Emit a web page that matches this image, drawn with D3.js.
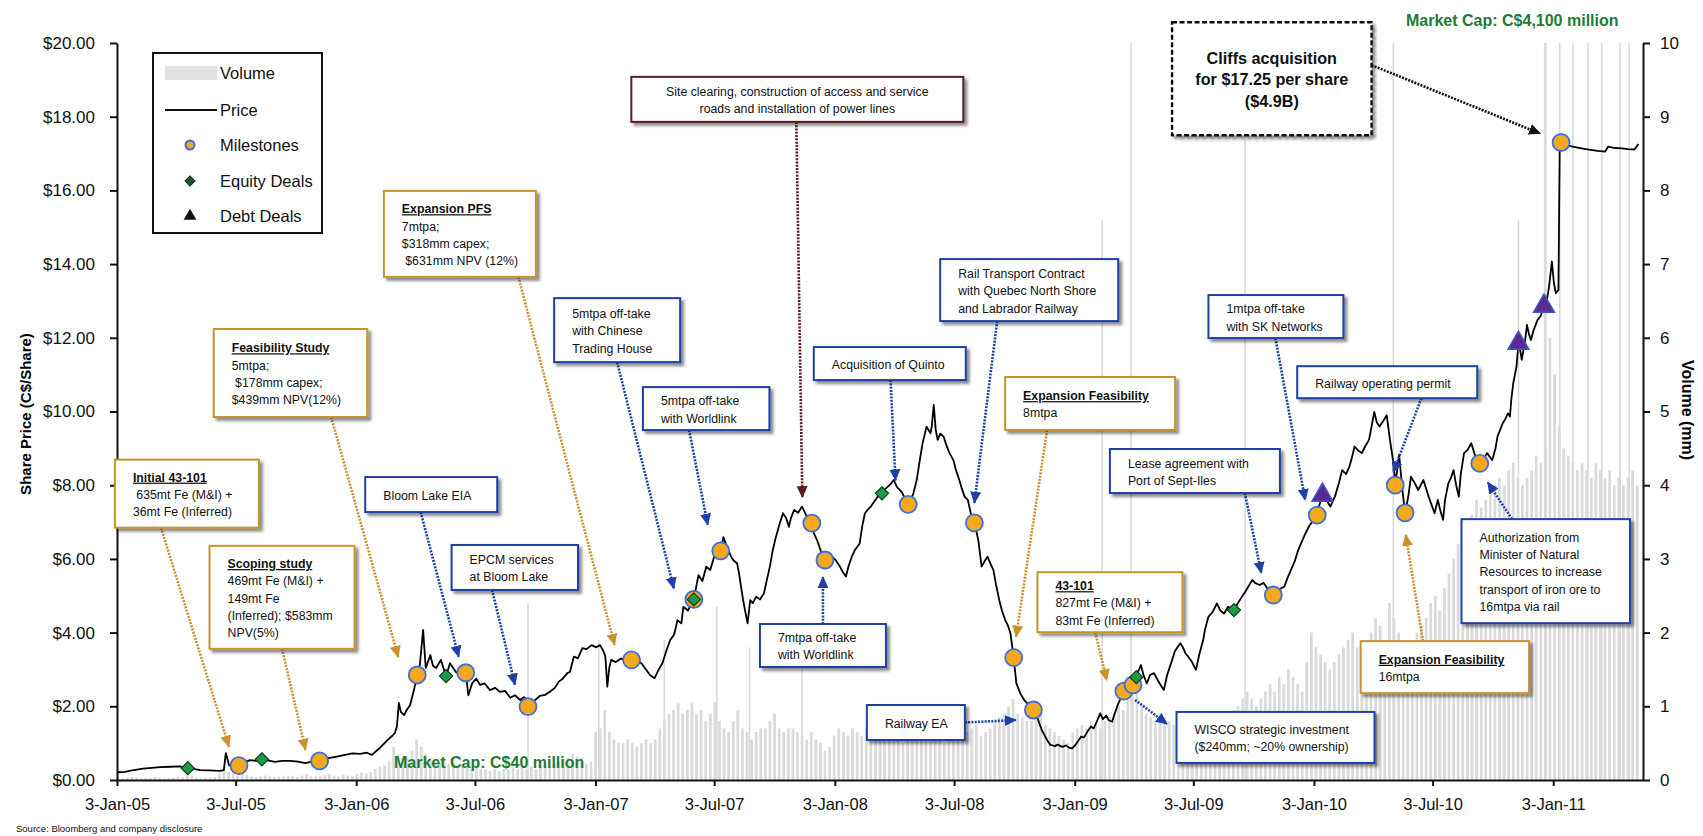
<!DOCTYPE html>
<html>
<head>
<meta charset="utf-8">
<script src="https://cdn.jsdelivr.net/npm/d3@7"></script>
<style>
  body { margin: 0; background: #fff; }
  text { font-family: "Liberation Sans", Arial, sans-serif; }
</style>
</head>
<body>
<svg id="chart" width="1703" height="836"></svg>
<script>
// ---------- data ----------
var price2005 = [["2005-01-04",0.21],["2005-01-15",0.22],["2005-01-26",0.26],["2005-02-12",0.31],["2005-02-25",0.33],["2005-03-10",0.35],["2005-03-25",0.36],["2005-04-09",0.37],["2005-04-21",0.33],["2005-05-10",0.27],["2005-05-25",0.26],["2005-06-09",0.25],["2005-06-15",0.27],["2005-06-18",0.73],["2005-06-23",0.40],["2005-07-01",0.38],["2005-07-08",0.39],["2005-07-17",0.48],["2005-07-25",0.54],["2005-08-03",0.52],["2005-08-12",0.56],["2005-08-21",0.53],["2005-09-01",0.49],["2005-09-12",0.52],["2005-09-24",0.52],["2005-10-06",0.50],["2005-10-17",0.46],["2005-10-28",0.50],["2005-11-08",0.52],["2005-11-16",0.57],["2005-11-24",0.60],["2005-12-06",0.64],["2005-12-17",0.68],["2005-12-28",0.72]];
var price2006 = [["2006-01-09",0.71],["2006-01-19",0.74],["2006-01-27",0.68],["2006-02-02",0.78],["2006-02-08",0.87],["2006-02-14",0.98],["2006-02-20",1.09],["2006-02-27",1.20],["2006-03-03",1.28],["2006-03-06",1.45],["2006-03-09",2.09],["2006-03-12",1.85],["2006-03-17",1.76],["2006-03-21",1.90],["2006-03-26",2.03],["2006-04-01",2.44],["2006-04-06",2.85],["2006-04-10",3.12],["2006-04-15",4.07],["2006-04-19",3.04],["2006-04-26",3.39],["2006-04-30",3.10],["2006-05-05",3.04],["2006-05-12",3.26],["2006-05-20",2.82],["2006-05-26",3.17],["2006-06-04",2.93],["2006-06-13",2.82],["2006-06-19",2.91],["2006-06-23",2.30],["2006-06-29",2.63],["2006-07-05",2.75],["2006-07-11",2.58],["2006-07-18",2.62],["2006-07-26",2.44],["2006-08-03",2.50],["2006-08-10",2.39],["2006-08-18",2.42],["2006-08-26",2.23],["2006-09-02",2.30],["2006-09-10",2.17],["2006-09-16",2.25],["2006-09-22",2.15],["2006-09-28",2.10],["2006-10-03",2.17],["2006-10-10",2.28],["2006-10-18",2.31],["2006-10-26",2.40],["2006-11-02",2.50],["2006-11-08",2.67],["2006-11-14",2.75],["2006-11-21",2.90],["2006-11-25",2.93],["2006-12-01",3.35],["2006-12-07",3.30],["2006-12-14",3.58],["2006-12-20",3.55],["2006-12-28",3.66]];
var price2007 = [["2007-01-04",3.60],["2007-01-10",3.66],["2007-01-15",3.50],["2007-01-18",3.35],["2007-01-21",2.53],["2007-01-24",3.05],["2007-01-27",3.26],["2007-02-03",3.20],["2007-02-11",3.30],["2007-02-19",3.22],["2007-02-27",3.26],["2007-03-06",3.22],["2007-03-14",3.17],["2007-03-21",3.00],["2007-03-27",2.85],["2007-04-03",2.76],["2007-04-08",2.95],["2007-04-15",3.17],["2007-04-21",3.50],["2007-04-27",3.80],["2007-05-03",3.95],["2007-05-08",4.34],["2007-05-14",4.25],["2007-05-17",4.70],["2007-05-24",4.60],["2007-06-02",4.90],["2007-06-09",5.56],["2007-06-15",5.40],["2007-06-21",5.79],["2007-06-27",5.70],["2007-07-03",6.06],["2007-07-09",6.10],["2007-07-13",6.22],["2007-07-17",6.59],["2007-07-23",6.30],["2007-07-29",6.06],["2007-08-02",5.95],["2007-08-07",5.88],["2007-08-10",5.60],["2007-08-13",5.25],["2007-08-16",4.90],["2007-08-20",4.52],["2007-08-23",4.25],["2007-08-27",4.88],["2007-08-31",4.80],["2007-09-05",4.97],["2007-09-11",4.90],["2007-09-17",5.07],["2007-09-21",5.40],["2007-09-26",5.79],["2007-09-30",6.20],["2007-10-04",6.51],["2007-10-10",6.90],["2007-10-16",7.24],["2007-10-21",7.10],["2007-10-25",6.87],["2007-10-28",7.10],["2007-11-02",7.33],["2007-11-08",7.25],["2007-11-14",7.42],["2007-11-20",7.20],["2007-11-29",6.97],["2007-12-02",6.70],["2007-12-07",6.51],["2007-12-13",6.20],["2007-12-19",5.97],["2007-12-25",6.15],["2007-12-30",6.06]];
var price2008 = [["2008-01-05",5.95],["2008-01-11",5.79],["2008-01-15",5.65],["2008-01-20",5.52],["2008-01-24",5.80],["2008-01-29",6.06],["2008-02-03",6.25],["2008-02-10",6.42],["2008-02-14",6.90],["2008-02-18",7.24],["2008-02-23",7.35],["2008-02-27",7.42],["2008-03-03",7.55],["2008-03-09",7.70],["2008-03-15",7.78],["2008-03-20",7.90],["2008-03-24",7.96],["2008-03-29",8.05],["2008-04-02",8.14],["2008-04-07",7.95],["2008-04-14",7.82],["2008-04-19",7.65],["2008-04-24",7.48],["2008-04-28",7.60],["2008-05-02",7.78],["2008-05-07",8.14],["2008-05-11",8.60],["2008-05-16",9.14],["2008-05-22",9.59],["2008-05-28",9.41],["2008-05-30",9.60],["2008-06-02",10.18],["2008-06-05",9.50],["2008-06-08",9.23],["2008-06-12",9.40],["2008-06-17",9.32],["2008-06-21",9.10],["2008-06-26",8.87],["2008-07-02",8.68],["2008-07-06",8.40],["2008-07-11",8.14],["2008-07-15",7.90],["2008-07-19",7.69],["2008-07-24",7.60],["2008-07-29",7.20],["2008-08-03",6.98],["2008-08-09",6.51],["2008-08-14",5.79],["2008-08-19",5.95],["2008-08-23",6.06],["2008-08-28",5.85],["2008-09-01",5.70],["2008-09-05",5.30],["2008-09-10",4.88],["2008-09-14",4.60],["2008-09-19",4.34],["2008-09-23",4.20],["2008-09-27",3.98],["2008-10-02",3.32],["2008-10-06",2.62],["2008-10-12",2.35],["2008-10-18",2.17],["2008-10-24",2.05],["2008-11-01",1.90],["2008-11-05",1.80],["2008-11-10",1.54],["2008-11-14",1.35],["2008-11-19",1.18],["2008-11-23",1.05],["2008-11-27",0.95],["2008-12-04",0.92],["2008-12-08",0.96],["2008-12-15",0.90],["2008-12-21",0.94],["2008-12-25",0.88],["2008-12-30",0.86]];
var price2009 = [["2009-01-04",0.95],["2009-01-08",1.05],["2009-01-13",1.18],["2009-01-17",1.15],["2009-01-22",1.30],["2009-01-28",1.45],["2009-02-01",1.40],["2009-02-06",1.60],["2009-02-11",1.81],["2009-02-15",1.65],["2009-02-20",1.75],["2009-02-24",1.62],["2009-03-01",1.58],["2009-03-06",1.85],["2009-03-10",2.05],["2009-03-15",2.25],["2009-03-19",2.41],["2009-03-24",2.45],["2009-03-29",2.55],["2009-04-02",2.58],["2009-04-07",2.79],["2009-04-10",2.95],["2009-04-14",3.12],["2009-04-18",2.85],["2009-04-23",2.62],["2009-04-28",2.85],["2009-05-04",2.90],["2009-05-10",2.70],["2009-05-15",2.55],["2009-05-19",2.44],["2009-05-24",2.85],["2009-05-31",3.22],["2009-06-05",3.50],["2009-06-13",3.71],["2009-06-17",3.60],["2009-06-21",3.44],["2009-06-25",3.35],["2009-07-01",3.20],["2009-07-07",2.99],["2009-07-12",3.40],["2009-07-18",3.80],["2009-07-21",4.10],["2009-07-26",4.43],["2009-08-01",4.55],["2009-08-08",4.79],["2009-08-13",4.60],["2009-08-19",4.52],["2009-08-25",4.70],["2009-09-03",4.61],["2009-09-09",4.80],["2009-09-15",4.97],["2009-09-20",5.10],["2009-09-25",5.25],["2009-10-01",5.43],["2009-10-05",5.35],["2009-10-12",5.29],["2009-10-18",5.35],["2009-10-24",5.20],["2009-11-02",5.02],["2009-11-09",5.15],["2009-11-19",5.25],["2009-11-23",5.45],["2009-11-29",5.70],["2009-12-05",5.95],["2009-12-10",6.24],["2009-12-15",6.45],["2009-12-21",6.69],["2009-12-27",6.90]];
var price2010 = [["2010-01-02",7.05],["2010-01-08",7.19],["2010-01-11",7.45],["2010-01-16",7.73],["2010-01-22",7.60],["2010-01-28",7.42],["2010-02-04",7.69],["2010-02-10",8.05],["2010-02-15",8.41],["2010-02-21",8.30],["2010-02-26",8.50],["2010-03-02",8.75],["2010-03-06",9.05],["2010-03-11",8.95],["2010-03-17",8.87],["2010-03-22",9.05],["2010-03-28",9.23],["2010-04-01",9.60],["2010-04-05",9.99],["2010-04-09",9.70],["2010-04-13",9.59],["2010-04-19",9.75],["2010-04-24",9.90],["2010-04-29",9.23],["2010-05-05",8.50],["2010-05-07",8.00],["2010-05-13",8.82],["2010-05-18",7.87],["2010-05-22",7.25],["2010-05-27",7.70],["2010-05-31",8.23],["2010-06-06",8.05],["2010-06-11",7.87],["2010-06-19",8.14],["2010-06-27",7.69],["2010-07-06",7.24],["2010-07-11",7.60],["2010-07-15",7.30],["2010-07-19",7.06],["2010-07-22",7.60],["2010-07-27",8.05],["2010-07-31",8.20],["2010-08-04",8.41],["2010-08-08",8.00],["2010-08-12",7.69],["2010-08-15",8.30],["2010-08-20",8.87],["2010-08-25",8.95],["2010-08-31",9.14],["2010-09-06",8.80],["2010-09-13",8.59],["2010-09-18",8.70],["2010-09-24",8.87],["2010-09-29",8.75],["2010-10-02",8.68],["2010-10-07",9.00],["2010-10-10",9.32],["2010-10-14",9.50],["2010-10-18",9.68],["2010-10-22",9.80],["2010-10-26",9.95],["2010-10-29",9.86],["2010-10-31",10.31],["2010-11-03",10.76],["2010-11-08",11.22],["2010-11-11",11.85],["2010-11-13",11.75],["2010-11-16",11.40],["2010-11-21",11.90],["2010-11-24",12.35],["2010-11-27",12.10],["2010-11-30",11.94],["2010-12-04",12.20],["2010-12-10",12.48],["2010-12-15",12.60],["2010-12-20",12.86],["2010-12-24",13.00],["2010-12-27",13.30],["2010-12-29",13.60]];
var price2011 = [["2011-01-01",14.07],["2011-01-04",13.50],["2011-01-07",13.21],["2011-01-11",13.30],["2011-01-13",17.28],["2011-01-15",17.30],["2011-01-24",17.22],["2011-02-02",17.19],["2011-02-13",17.15],["2011-02-22",17.12],["2011-03-01",17.10],["2011-03-12",17.07],["2011-03-23",17.05],["2011-03-28",17.19],["2011-04-07",17.15],["2011-04-18",17.14],["2011-04-27",17.12],["2011-05-07",17.11],["2011-05-13",17.26]];

var milestoneDates = ["2005-07-08","2005-11-08","2006-04-06","2006-06-19","2006-09-22","2007-02-27","2007-06-02","2007-07-13","2007-11-29","2007-12-19","2008-04-24","2008-08-03","2008-10-02","2008-11-01","2009-03-19","2009-04-02","2009-11-02","2010-01-08","2010-05-07","2010-05-22","2010-09-13","2011-01-15"];
var milestonePrices = [0.39,0.52,2.85,2.91,1.99,3.26,4.90,6.22,6.97,5.97,7.48,6.98,3.32,1.90,2.41,2.58,5.02,7.19,8.00,7.25,8.59,17.30];
var equityDates = ["2005-04-21","2005-08-12","2006-05-20","2007-06-02","2008-03-15","2009-04-07","2009-09-03"];
var equityPrices = [0.32,0.56,2.82,4.90,7.78,2.79,4.61];
var debtDates = ["2010-01-16","2010-11-11","2010-12-20"];
var debtPrices = [7.73,11.85,12.86];

// weekly average volume (mm), weeks counted from 3-Jan-05
var volume2005 = [0.03,0.02,0.03,0.04,0.03,0.02,0.03,0.03,0.04,0.03,0.02,0.03,0.03,0.04,0.03,0.06,0.05,0.03,0.02,0.03,0.03,0.04,0.09,0.18,0.11,0.08,0.06,0.09,0.07,0.05,0.04,0.05,0.06,0.05,0.04,0.04,0.05,0.06,0.05,0.04,0.06,0.08,0.05,0.05,0.06,0.07,0.08,0.06,0.05,0.07,0.06,0.05];
var volume2006 = [0.08,0.10,0.09,0.11,0.15,0.18,0.20,0.25,0.45,0.35,0.30,0.32,0.40,0.55,0.45,0.35,0.30,0.28,0.25,0.30,0.22,0.25,0.20,0.22,0.18,0.15,0.18,0.15,0.14,0.12,0.15,0.12,0.15,0.14,0.18,0.15,0.20,0.15,0.18,0.15,0.18,0.20,0.19,0.22,0.25,0.28,0.30,0.35,0.32,0.30,0.22,0.25];
var volume2007 = [0.65,0.70,0.95,0.65,0.55,0.50,0.50,0.55,0.50,0.45,0.50,0.55,0.50,0.55,0.70,0.80,0.90,0.95,1.05,0.90,0.95,1.05,0.90,0.95,0.80,0.90,1.05,0.80,0.70,0.65,0.80,0.95,0.70,0.65,0.55,0.65,0.70,0.70,0.80,0.90,0.70,0.65,0.70,0.70,0.65,0.60,0.55,0.65,0.55,0.50,0.40,0.45];
var volume2008 = [0.60,0.70,0.65,0.60,0.70,0.65,0.60,0.70,0.80,0.70,0.60,0.65,0.60,0.55,0.60,0.50,0.55,0.60,0.75,0.80,0.90,0.70,0.60,0.55,0.50,0.60,0.65,0.70,0.60,0.65,0.70,0.75,0.60,0.65,0.70,0.80,0.85,0.90,1.00,1.10,0.90,0.85,0.80,0.80,0.85,0.90,0.75,0.70,0.65,0.60,0.55,0.50];
var volume2009 = [0.65,0.70,0.75,0.70,0.80,0.75,0.70,0.80,0.85,0.90,1.00,0.95,1.10,1.30,1.20,1.00,0.90,0.85,0.80,0.90,0.85,0.80,0.75,0.70,0.70,0.75,0.80,0.90,0.85,0.80,0.85,0.90,0.80,0.85,0.90,0.95,1.00,1.10,1.20,1.10,1.00,1.10,1.20,1.30,1.20,1.40,1.30,1.50,1.40,1.30,1.20,1.60];
var volume2010 = [2.00,1.80,1.70,1.60,1.50,1.60,1.70,1.80,1.90,2.00,1.80,1.70,1.90,2.00,2.20,2.10,1.90,2.40,2.20,2.00,1.90,1.80,1.90,2.00,2.10,2.20,2.40,2.50,2.30,2.60,2.80,3.00,3.20,3.40,3.50,3.60,3.80,3.70,3.80,3.90,4.00,4.10,4.00,4.20,4.30,4.10,4.00,4.10,4.20,4.40,4.30,4.50];
var volume2011 = [6.00,5.50,4.80,4.50,4.40,4.30,4.20,4.30,4.20,4.10,4.30,4.20,4.10,4.20,4.00,4.10,4.00,4.10,4.20,4.00];
// single heavy-volume days
var spikeDates = ["2006-09-22","2007-01-08","2007-04-18","2007-07-07","2007-08-26","2007-11-14","2009-02-14","2009-03-30","2009-09-20","2010-05-04","2010-11-11","2010-12-21","2010-12-23","2011-01-13","2011-02-02","2011-02-25","2011-03-18","2011-04-15","2011-04-29"];
var spikeValues = [2.4,1.9,1.9,2.35,1.8,1.5,7.6,10.5,8.7,10.5,7.6,10.5,10.5,10.5,10.5,10.5,10.5,10.5,10.5];

var priceTicks = [0,2,4,6,8,10,12,14,16,18,20];
var volumeTicks = [0,1,2,3,4,5,6,7,8,9,10];
var dateTicks = ["2005-01-03","2005-07-03","2006-01-03","2006-07-03","2007-01-03","2007-07-03","2008-01-03","2008-07-03","2009-01-03","2009-07-03","2010-01-03","2010-07-03","2011-01-03"];

// callout texts, one per milestone (title line first when underlined)
var noteTexts = [
  {title: "Initial 43-101", lines: [" 635mt Fe (M&I) +", "36mt Fe (Inferred)"]},
  {title: "Scoping study", lines: ["469mt Fe (M&I) +", "149mt Fe", "(Inferred); $583mm", "NPV(5%)"]},
  {title: "Feasibility Study", lines: ["5mtpa;", " $178mm capex;", "$439mm NPV(12%)"]},
  {title: null, lines: ["Bloom Lake EIA"]},
  {title: null, lines: ["EPCM services", "at Bloom Lake"]},
  {title: "Expansion PFS", lines: ["7mtpa;", "$318mm capex;", " $631mm NPV (12%)"]},
  {title: null, lines: ["5mtpa off-take", "with Chinese", "Trading House"]},
  {title: null, lines: ["5mtpa off-take", "with Worldlink"]},
  {title: null, lines: ["Site clearing, construction of access and service", "roads and installation of power lines"]},
  {title: null, lines: ["7mtpa off-take", "with Worldlink"]},
  {title: null, lines: ["Acquisition of Quinto"]},
  {title: null, lines: ["Rail Transport Contract", "with Quebec North Shore", "and Labrador Railway"]},
  {title: "Expansion Feasibility", lines: ["8mtpa"]},
  {title: null, lines: ["Railway EA"]},
  {title: "43-101", lines: ["827mt Fe (M&I) +", "83mt Fe (Inferred)"]},
  {title: null, lines: ["WISCO strategic investment", "($240mm; ~20% ownership)"]},
  {title: null, lines: ["Lease agreement with", "Port of Sept-Iles"]},
  {title: null, lines: ["1mtpa off-take", "with SK Networks"]},
  {title: null, lines: ["Railway operating permit"]},
  {title: "Expansion Feasibility", lines: ["16mtpa"]},
  {title: null, lines: ["Authorization from", "Minister of Natural", "Resources to increase", "transport of iron ore to", "16mtpa via rail"]},
  {title: null, lines: ["Cliffs acquisition", "for $17.25 per share", "($4.9B)"]}
];

// ---------- layout ----------
var plot = {left: 117, right: 1643, top: 43, bottom: 780};
var colors = {orange: "#c9922c", blue: "#1f3fa6", maroon: "#5a1a26", black: "#111"};

// box offsets relative to the milestone they point at (px), arrow start on box (fractions), arrow tip offset from the marker
var noteLayout = [
  {dx: -124, dy: -306, w: 144, h: 68, from: [0.32, 1], to: [-10, -19], c: "orange"},
  {dx: -110, dy: -215, w: 145, h: 103, from: [0.5, 1], to: [-14, -11], c: "orange"},
  {dx: -203.5, dy: -346, w: 153.5, h: 88, from: [0.765, 1], to: [-19, -18], c: "orange"},
  {dx: -100.5, dy: -195.7, w: 132, h: 35, from: [0.42, 1], to: [-7, -16], c: "blue"},
  {dx: -76.4, dy: -161.7, w: 126.4, h: 45, from: [0.32, 1], to: [-13, -22], c: "blue"},
  {dx: -247.7, dy: -469, w: 152, h: 86, from: [0.885, 1], to: [-17, -15], c: "orange"},
  {dx: -139.7, dy: -301.3, w: 126, h: 64, from: [0.5, 1], to: [-20, -11], c: "blue"},
  {dx: -77.8, dy: -163.7, w: 126.5, h: 43, from: [0.365, 1], to: [-13, -26], c: "blue"},
  {dx: -180.5, dy: -446.3, w: 332, h: 45, from: [0.497, 1], to: [-9.5, -26], c: "maroon", center: true},
  {dx: -65, dy: 64, w: 126, h: 43, from: [0.5, 0], to: [-2, 17], c: "blue"},
  {dx: -94.4, dy: -157.3, w: 152, h: 33, from: [0.505, 1], to: [-12.7, -24], c: "blue"},
  {dx: -34.2, dy: -263.7, w: 178, h: 62, from: [0.32, 1], to: [0, -20], c: "blue"},
  {dx: -8.6, dy: -280.7, w: 170, h: 53, from: [0.247, 1], to: [2.4, -21], c: "orange"},
  {dx: -166.5, dy: -5, w: 98, h: 35, from: [1, 0.5], to: [-17.5, 10], c: "blue"},
  {dx: -86.4, dy: -119, w: 145, h: 60, from: [0.398, 1], to: [-17, -11], c: "orange"},
  {dx: 43.5, dy: 27, w: 198, h: 51, from: [-0.048, 0.235], to: [2, 15], c: "blue", reverse: true},
  {dx: -163.4, dy: -146, w: 170, h: 44, from: [0.794, 1], to: [-12, -22], c: "blue"},
  {dx: -108.8, dy: -220, w: 135, h: 43, from: [0.496, 1], to: [-12, -15], c: "blue"},
  {dx: -98, dy: -119, w: 180, h: 32, from: [0.69, 1], to: [-2, -13], c: "blue"},
  {dx: -44.4, dy: 128.3, w: 168.4, h: 52, from: [0.37, 0], to: [0.7, 22], c: "orange"},
  {dx: -18.3, dy: 55.7, w: 168.5, h: 104, from: [0.3, 0], to: [8, 19], c: "blue"},
  {dx: -389, dy: -120.3, w: 199.5, h: 113, from: [1, 0.38], to: [-21, -9], c: "black", center: true, big: true, dashed: true}
];

var parseDate = d3.timeParse("%Y-%m-%d");
var priceData = [].concat(price2005, price2006, price2007, price2008, price2009, price2010, price2011)
  .map(d => ({date: parseDate(d[0]), value: d[1]}));
var weekly = [].concat(volume2005, volume2006, volume2007, volume2008, volume2009, volume2010, volume2011);
var volStart = parseDate("2005-01-03");

var x = d3.scaleTime()
    .domain([parseDate("2005-01-03"), parseDate("2011-05-20")])
    .range([plot.left, plot.right]);
var y = d3.scaleLinear().domain([0, 20]).range([plot.bottom, plot.top]);
var yVol = d3.scaleLinear().domain([0, 10]).range([plot.bottom, plot.top]);

var svg = d3.select("#chart");
var defs = svg.append("defs");

// drop shadow for the callout boxes
var f = defs.append("filter").attr("id", "shadow")
    .attr("x", "-10%").attr("y", "-20%").attr("width", "125%").attr("height", "150%");
f.append("feDropShadow").attr("dx", 3).attr("dy", 3).attr("stdDeviation", 1.6)
    .attr("flood-color", "#000").attr("flood-opacity", 0.45);

defs.append("clipPath").attr("id", "plotclip").append("rect")
    .attr("x", plot.left).attr("y", plot.top)
    .attr("width", plot.right - plot.left).attr("height", plot.bottom - plot.top);

// arrow heads, one per colour
Object.keys(colors).forEach(function(k) {
  defs.append("marker").attr("id", "arrow-" + k)
      .attr("markerUnits", "userSpaceOnUse")
      .attr("viewBox", "0 0 12 12")
      .attr("markerWidth", 12).attr("markerHeight", 12)
      .attr("refX", 11).attr("refY", 6)
      .attr("orient", "auto")
    .append("path").attr("d", "M0,0.5 L12,6 L0,11.5 Z").attr("fill", colors[k]);
});

// ---------- volume ----------
var volG = svg.append("g").attr("clip-path", "url(#plotclip)");
var weekW = x(d3.timeDay.offset(volStart, 7)) - x(volStart);
volG.selectAll("rect.week")
  .data(weekly)
  .enter().append("rect").attr("class", "week")
    .attr("x", (d, i) => x(d3.timeDay.offset(volStart, 7 * i)))
    .attr("y", d => yVol(Math.min(d, 10)))
    .attr("width", weekW * 0.6)
    .attr("height", d => plot.bottom - yVol(Math.min(d, 10)))
    .attr("fill", "#dadada");
volG.selectAll("rect.spike")
  .data(spikeDates)
  .enter().append("rect").attr("class", "spike")
    .attr("x", d => x(parseDate(d)) - 0.8)
    .attr("y", (d, i) => yVol(Math.min(spikeValues[i], 10)))
    .attr("width", 1.6)
    .attr("height", (d, i) => plot.bottom - yVol(Math.min(spikeValues[i], 10)))
    .attr("fill", "#dadada");

// ---------- axes ----------
var fmtPrice = d3.format(".2f");
var gy = svg.append("g").attr("transform", "translate(" + plot.left + ",0)")
    .call(d3.axisLeft(y).tickValues(priceTicks).tickSize(7).tickSizeOuter(0).tickPadding(15)
      .tickFormat(d => "$" + fmtPrice(d)));
var gv = svg.append("g").attr("transform", "translate(" + plot.right + ",0)")
    .call(d3.axisRight(yVol).tickValues(volumeTicks).tickSize(7).tickSizeOuter(0).tickPadding(10));
var gx = svg.append("g").attr("transform", "translate(0," + plot.bottom + ")")
    .call(d3.axisBottom(x).tickValues(dateTicks.map(parseDate)).tickSize(6).tickSizeOuter(0).tickPadding(12)
      .tickFormat(d3.timeFormat("%-d-%b-%y")));
[gy, gv, gx].forEach(function(g) {
  g.selectAll("path.domain").attr("stroke", "#111").attr("stroke-width", 2);
  g.selectAll(".tick line").attr("stroke", "#111").attr("stroke-width", 2);
  g.selectAll("text").attr("fill", "#111").style("font-size", "17px");
});
gx.selectAll("text").style("font-size", "16.5px");

svg.append("text")
    .attr("transform", "translate(26,414) rotate(-90)")
    .attr("text-anchor", "middle").attr("dy", "0.35em")
    .style("font-size", "15px").style("font-weight", "bold")
    .text("Share Price (C$/Share)");
svg.append("text")
    .attr("transform", "translate(1688,410) rotate(90)")
    .attr("text-anchor", "middle").attr("dy", "0.35em")
    .style("font-size", "16px").style("font-weight", "bold")
    .text("Volume (mm)");

// ---------- price line ----------
var line = d3.line().x(d => x(d.date)).y(d => y(d.value));
svg.append("path").datum(priceData)
    .attr("d", line)
    .attr("fill", "none").attr("stroke", "#000").attr("stroke-width", 1.8)
    .attr("stroke-linejoin", "round");

// ---------- callouts ----------
var mPts = milestoneDates.map((d, i) => [x(parseDate(d)), y(milestonePrices[i])]);
var arrowsG = svg.append("g");
var boxesG = svg.append("g");

noteLayout.forEach(function(L, i) {
  var m = mPts[i], T = noteTexts[i];
  var bx = m[0] + L.dx, by = m[1] + L.dy;
  var onBox = [bx + L.from[0] * L.w, by + L.from[1] * L.h];
  var nearMark = [m[0] + L.to[0], m[1] + L.to[1]];
  var p0 = L.reverse ? nearMark : onBox, p1 = L.reverse ? onBox : nearMark;
  arrowsG.append("line")
      .attr("x1", p0[0]).attr("y1", p0[1]).attr("x2", p1[0]).attr("y2", p1[1])
      .attr("stroke", colors[L.c]).attr("stroke-width", 2.6)
      .attr("stroke-dasharray", "2,1.3")
      .attr("marker-end", "url(#arrow-" + L.c + ")");

  var g = boxesG.append("g");
  g.append("rect").attr("x", bx).attr("y", by).attr("width", L.w).attr("height", L.h)
      .attr("fill", "#fff").attr("stroke", colors[L.c])
      .attr("stroke-width", L.dashed ? 2.4 : 2)
      .attr("stroke-dasharray", L.dashed ? "5,2.5" : null)
      .attr("filter", "url(#shadow)");

  var rows = (T.title ? [T.title] : []).concat(T.lines);
  var step = L.big ? 21.5 : 17.3;
  var cy = by + L.h / 2 + 1 - (rows.length - 1) * step / 2;
  var t = g.append("text")
      .attr("text-anchor", L.center ? "middle" : "start")
      .style("font-size", L.big ? "16.2px" : "12.3px")
      .style("font-weight", L.big ? "bold" : null)
      .style("white-space", "pre")
      .attr("fill", "#111");
  rows.forEach(function(r, k) {
    var ts = t.append("tspan")
        .attr("x", L.center ? bx + L.w / 2 : bx + 18)
        .attr("y", cy + k * step)
        .attr("dy", "0.35em")
        .text(r);
    if (T.title && k === 0) ts.style("font-weight", "bold").style("text-decoration", "underline");
  });
});

// ---------- markers ----------
var mk = svg.append("g");
mk.selectAll("path.debt")
  .data(debtDates)
  .enter().append("path").attr("class", "debt")
    .attr("transform", (d, i) => "translate(" + x(parseDate(d)) + "," + y(debtPrices[i]) + ")")
    .attr("d", d3.symbol().type(d3.symbolTriangle).size(190))
    .attr("fill", "#5a2a8f").attr("stroke", "#3f55c8").attr("stroke-width", 1.5);
mk.selectAll("circle.mile")
  .data(milestoneDates)
  .enter().append("circle").attr("class", "mile")
    .attr("cx", d => x(parseDate(d)))
    .attr("cy", (d, i) => y(milestonePrices[i]))
    .attr("r", 8.5)
    .attr("fill", "#f4a91d").attr("stroke", "#3b6ee0").attr("stroke-width", 1.8);
mk.selectAll("path.eq")
  .data(equityDates)
  .enter().append("path").attr("class", "eq")
    .attr("transform", (d, i) => "translate(" + x(parseDate(d)) + "," + y(equityPrices[i]) + ")")
    .attr("d", d3.symbol().type(d3.symbolDiamond2).size(110))
    .attr("fill", "#1e9b45").attr("stroke", "#0d3b1e").attr("stroke-width", 1.2);

// ---------- legend ----------
var lg = svg.append("g");
lg.append("rect").attr("x", 153).attr("y", 53).attr("width", 169).attr("height", 180)
    .attr("fill", "#fff").attr("stroke", "#111").attr("stroke-width", 2);
var legendRows = ["Volume", "Price", "Milestones", "Equity Deals", "Debt Deals"];
var rowY = [73, 110, 145, 181, 216];
lg.append("rect").attr("x", 165).attr("y", rowY[0] - 7).attr("width", 52).attr("height", 14).attr("fill", "#e2e2e2");
lg.append("line").attr("x1", 165).attr("x2", 217).attr("y1", rowY[1]).attr("y2", rowY[1])
    .attr("stroke", "#111").attr("stroke-width", 2);
lg.append("circle").attr("cx", 190).attr("cy", rowY[2]).attr("r", 4.5)
    .attr("fill", "#f4a91d").attr("stroke", "#3b6ee0").attr("stroke-width", 2);
lg.append("path").attr("transform", "translate(190," + rowY[3] + ")")
    .attr("d", d3.symbol().type(d3.symbolDiamond2).size(70)).attr("fill", "#0e5a22").attr("stroke", "#111");
lg.append("path").attr("transform", "translate(190," + rowY[4] + ")")
    .attr("d", d3.symbol().type(d3.symbolTriangle).size(70)).attr("fill", "#111");
lg.selectAll("text.lab").data(legendRows).enter().append("text").attr("class", "lab")
    .attr("x", 220).attr("y", (d, i) => rowY[i]).attr("dy", "0.35em")
    .style("font-size", "16.5px").attr("fill", "#111")
    .text(d => d);

// ---------- other labels ----------
svg.append("text").attr("x", 394).attr("y", 768)
    .style("font-size", "16px").style("font-weight", "bold").attr("fill", "#1e7b34")
    .text("Market Cap: C$40 million");
svg.append("text").attr("x", 1406).attr("y", 26)
    .style("font-size", "16px").style("font-weight", "bold").attr("fill", "#1e7b34")
    .text("Market Cap: C$4,100 million");
svg.append("text").attr("x", 16).attr("y", 832)
    .style("font-size", "9.5px").attr("fill", "#111")
    .text("Source: Bloomberg and company disclosure");
</script>
</body>
</html>
